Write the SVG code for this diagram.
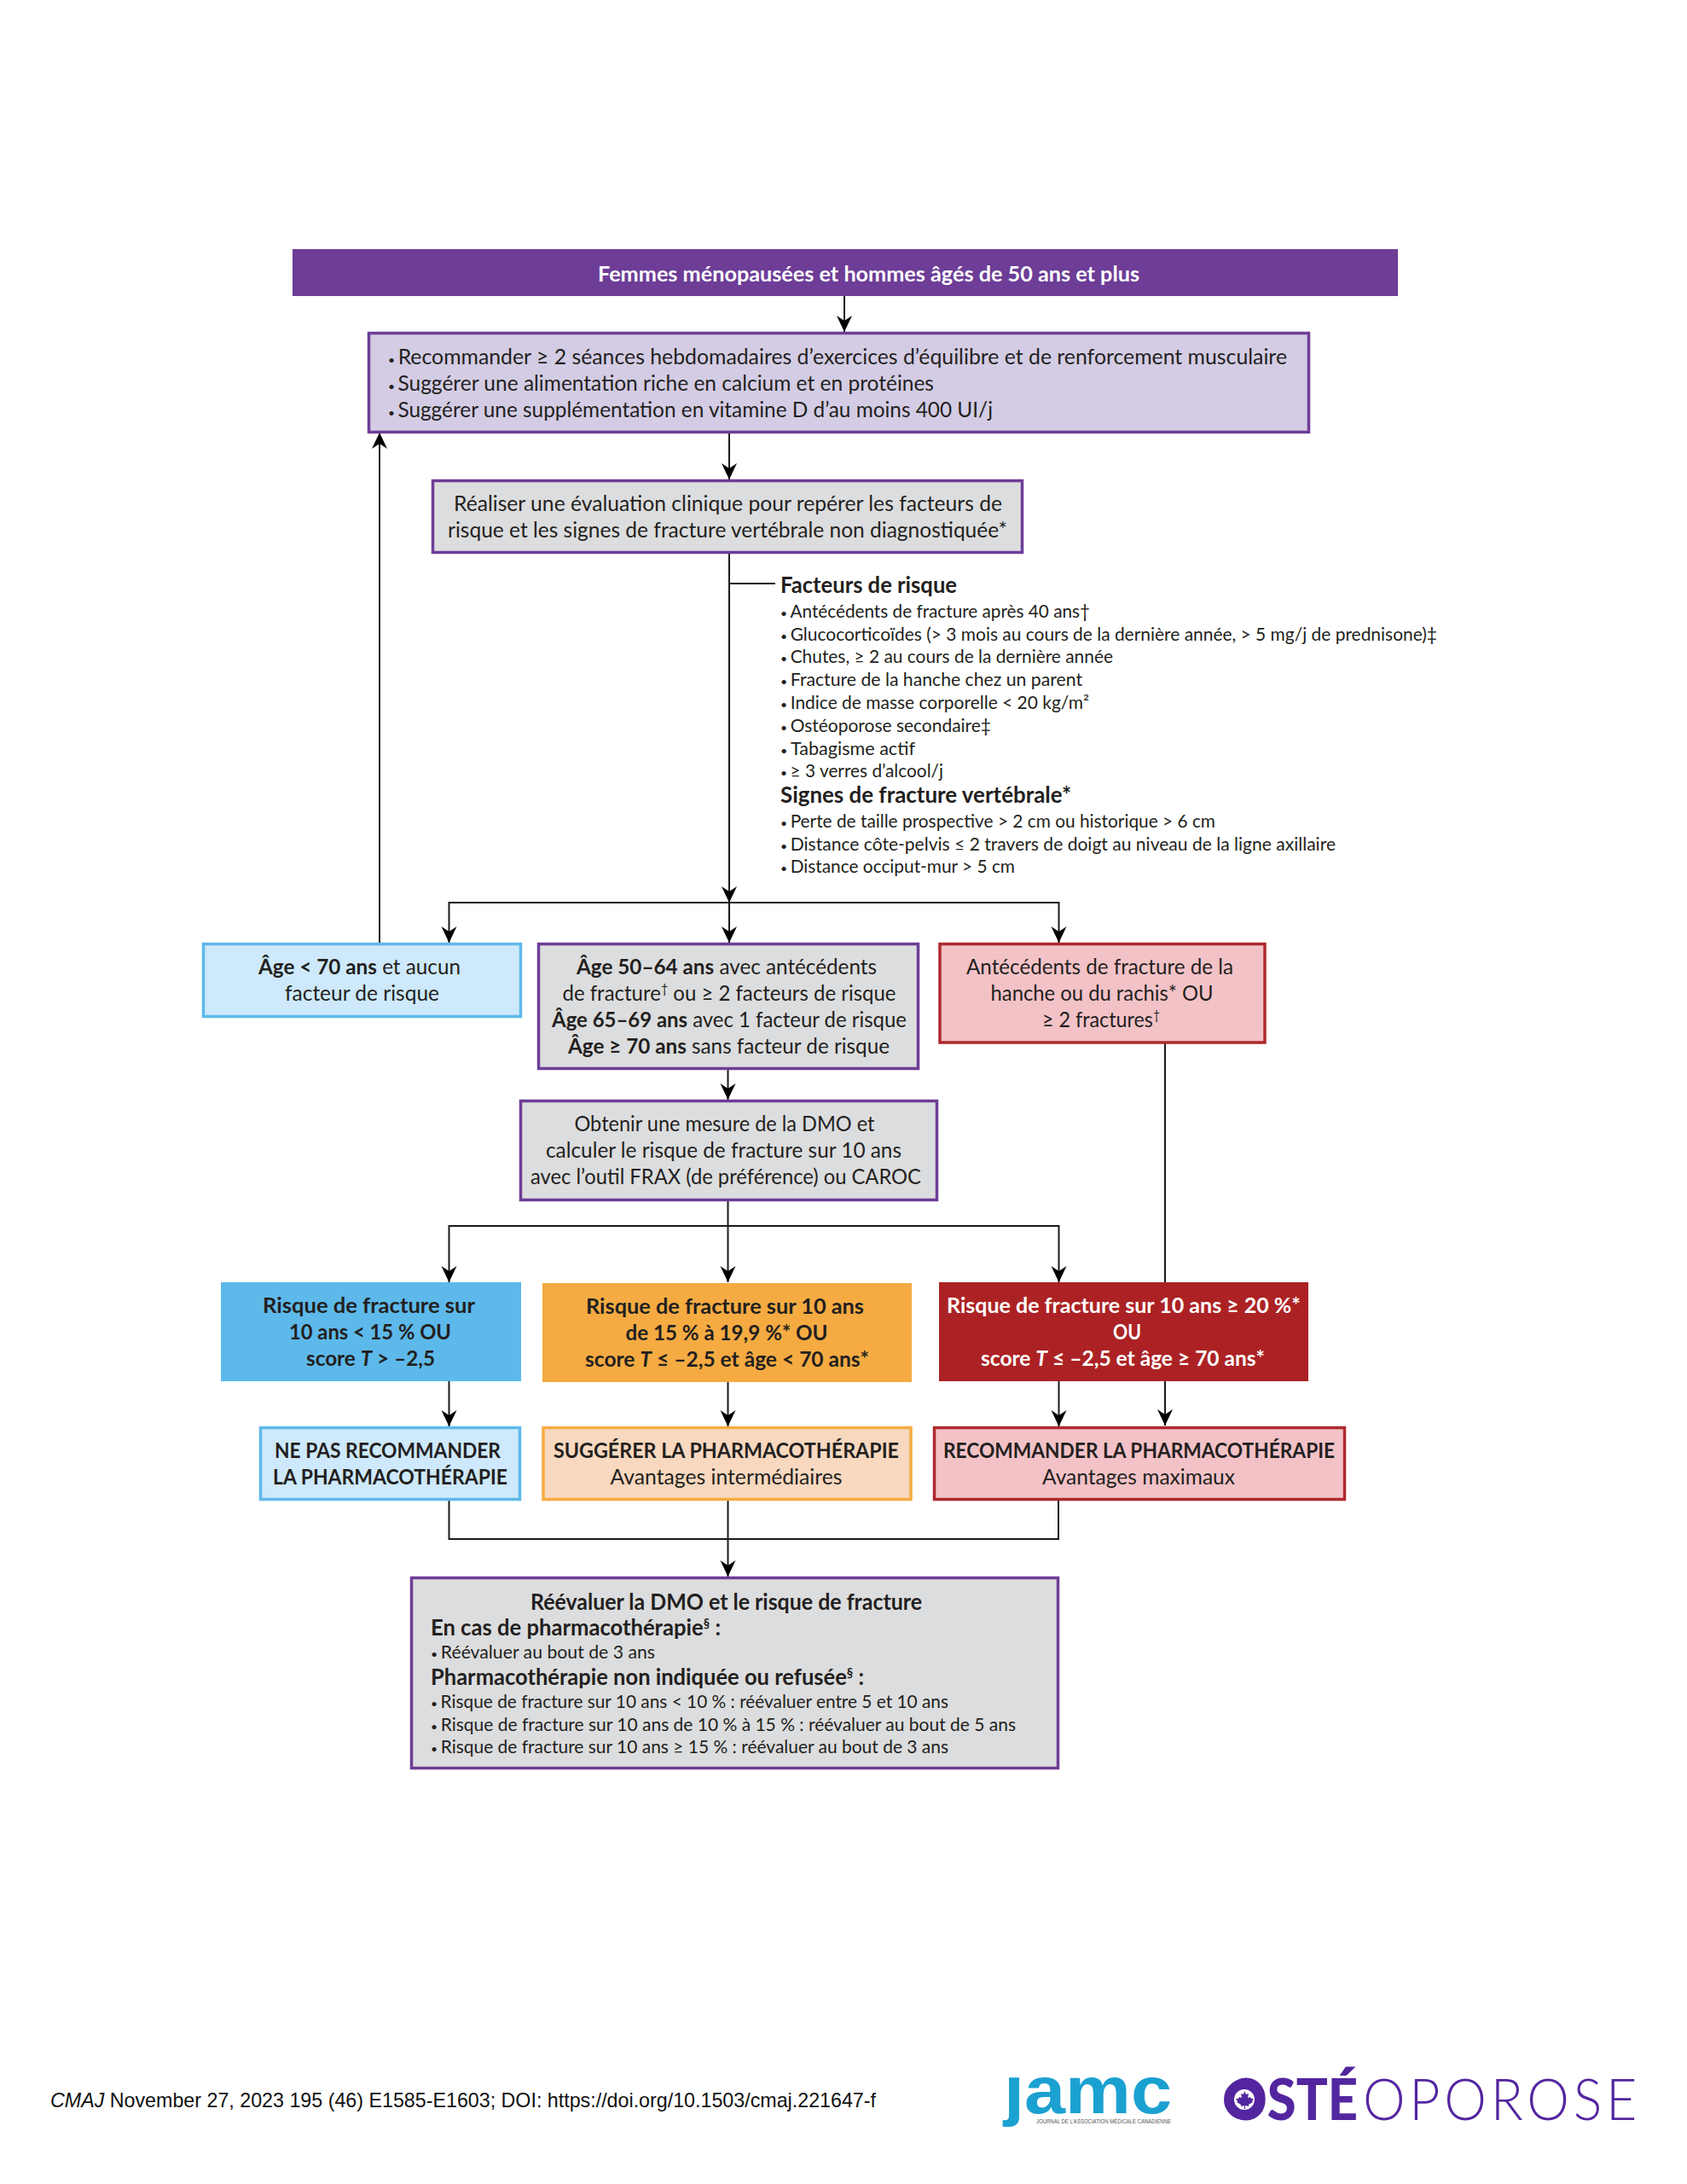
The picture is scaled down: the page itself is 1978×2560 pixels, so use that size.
<svg xmlns="http://www.w3.org/2000/svg" width="1978" height="2560" viewBox="0 0 1978 2560">
<style>
text{font-family:"Lato","Noto Sans",sans-serif;font-size:25px;fill:#231f20}
g[id^="n-"] text{transform:translate(0,1.5px)}
.b{font-weight:700}
.s{font-size:21px}
.h{font-size:26px;font-weight:700}
.w{fill:#fff}
.sup{font-size:15px;baseline-shift:super}
.i{font-style:italic}
.bu{font-size:14px}
.pu{stroke:#6d3d97}.bl{stroke:#5fb9e9}.re{stroke:#ae2a2e}.or{stroke:#f5ab42}
rect{stroke-width:3.5}
.c{fill:none;stroke:#1a1a1a;stroke-width:2}
.a{marker-end:url(#ah)}
.f{font-family:"Liberation Sans",Arial,sans-serif}
</style>
<defs>
<marker id="ah" markerUnits="userSpaceOnUse" markerWidth="22" markerHeight="20" refX="19" refY="9" orient="auto"><path d="M19,9 L0,0 L6,9 L0,18 Z" fill="#000"/></marker>
<clipPath id="jc"><rect x="1170" y="2435" width="210" height="65"/></clipPath>
</defs>
<rect width="1978" height="2560" fill="#fff" style="stroke:none"/>
<g id="connectors">
<path class="c a" d="M990,347V389"/>
<path class="c a" d="M855,507V562"/>
<path class="c a" d="M855,649V1058"/>
<path class="c" d="M855,684H909"/>
<path class="c a" d="M445,1105V507"/>
<path class="c a" d="M855,1058V1105"/>
<path class="c a" d="M855,1058H526.5V1105"/>
<path class="c a" d="M855,1058H1241.5V1105"/>
<path class="c a" d="M853.5,1253V1289"/>
<path class="c" d="M853.5,1408V1437"/>
<path class="c a" d="M853.5,1437V1503"/>
<path class="c a" d="M853.5,1437H526.5V1503"/>
<path class="c a" d="M853.5,1437H1241.5V1503"/>
<path class="c a" d="M1366,1223V1671"/>
<path class="c a" d="M526.5,1619V1672"/>
<path class="c a" d="M853.5,1620V1672"/>
<path class="c a" d="M1241.5,1619V1672"/>
<path class="c" d="M526.5,1759V1804H1241V1759"/>
<path class="c a" d="M853.5,1759V1848"/>
</g>
<g id="n-header">
<rect x="343" y="292" width="1296" height="55" fill="#6d3d97" style="stroke:none"/>
<text class="b w" x="701" y="328" textLength="635" lengthAdjust="spacingAndGlyphs">Femmes ménopausées et hommes âgés de 50 ans et plus</text>
</g>
<g id="n-recommander">
<rect class="pu" x="432.5" y="390.5" width="1102" height="116" fill="#d3cce4"/>
<text x="455" y="425" textLength="1054" lengthAdjust="spacingAndGlyphs"><tspan class="bu">• </tspan>Recommander ≥ 2 séances hebdomadaires d’exercices d’équilibre et de renforcement musculaire</text>
<text x="455" y="456" textLength="640" lengthAdjust="spacingAndGlyphs"><tspan class="bu">• </tspan>Suggérer une alimentation riche en calcium et en protéines</text>
<text x="455" y="487" textLength="709" lengthAdjust="spacingAndGlyphs"><tspan class="bu">• </tspan>Suggérer une supplémentation en vitamine D d’au moins 400 UI/j</text>
</g>
<g id="n-evaluation">
<rect class="pu" x="507.5" y="563.5" width="691" height="84" fill="#dcddde"/>
<text x="532" y="597" textLength="643" lengthAdjust="spacingAndGlyphs">Réaliser une évaluation clinique pour repérer les facteurs de</text>
<text x="525" y="628" textLength="656" lengthAdjust="spacingAndGlyphs">risque et les signes de fracture vertébrale non diagnostiquée*</text>
</g>
<g id="n-facteurs">
<text class="h" x="915" y="693" textLength="207" lengthAdjust="spacingAndGlyphs">Facteurs de risque</text>
<text class="s" x="915" y="722" textLength="363" lengthAdjust="spacingAndGlyphs"><tspan class="bu">• </tspan>Antécédents de fracture après 40 ans†</text>
<text class="s" x="915" y="749" textLength="770" lengthAdjust="spacingAndGlyphs"><tspan class="bu">• </tspan>Glucocorticoïdes (&gt; 3 mois au cours de la dernière année, &gt; 5 mg/j de prednisone)‡</text>
<text class="s" x="915" y="775" textLength="390" lengthAdjust="spacingAndGlyphs"><tspan class="bu">• </tspan>Chutes, ≥ 2 au cours de la dernière année</text>
<text class="s" x="915" y="802" textLength="354" lengthAdjust="spacingAndGlyphs"><tspan class="bu">• </tspan>Fracture de la hanche chez un parent</text>
<text class="s" x="915" y="829" textLength="362" lengthAdjust="spacingAndGlyphs"><tspan class="bu">• </tspan>Indice de masse corporelle &lt; 20 kg/m²</text>
<text class="s" x="915" y="856" textLength="247" lengthAdjust="spacingAndGlyphs"><tspan class="bu">• </tspan>Ostéoporose secondaire‡</text>
<text class="s" x="915" y="883" textLength="158" lengthAdjust="spacingAndGlyphs"><tspan class="bu">• </tspan>Tabagisme actif</text>
<text class="s" x="915" y="909" textLength="191" lengthAdjust="spacingAndGlyphs"><tspan class="bu">• </tspan>≥ 3 verres d’alcool/j</text>
<text class="h" x="915" y="939" textLength="341" lengthAdjust="spacingAndGlyphs">Signes de fracture vertébrale*</text>
<text class="s" x="915" y="968" textLength="510" lengthAdjust="spacingAndGlyphs"><tspan class="bu">• </tspan>Perte de taille prospective &gt; 2 cm ou historique &gt; 6 cm</text>
<text class="s" x="915" y="995" textLength="651" lengthAdjust="spacingAndGlyphs"><tspan class="bu">• </tspan>Distance côte-pelvis ≤ 2 travers de doigt au niveau de la ligne axillaire</text>
<text class="s" x="915" y="1021" textLength="275" lengthAdjust="spacingAndGlyphs"><tspan class="bu">• </tspan>Distance occiput-mur &gt; 5 cm</text>
</g>
<g id="n-age-faible">
<rect class="bl" x="238.5" y="1106.5" width="372" height="85" fill="#cde9fb"/>
<text x="303" y="1140" textLength="237" lengthAdjust="spacingAndGlyphs"><tspan class="b">Âge &lt; 70 ans</tspan> et aucun</text>
<text x="334" y="1171" textLength="181" lengthAdjust="spacingAndGlyphs">facteur de risque</text>
</g>
<g id="n-age-moyen">
<rect class="pu" x="631.5" y="1106.5" width="445" height="146" fill="#dcddde"/>
<text x="676" y="1140" textLength="352" lengthAdjust="spacingAndGlyphs"><tspan class="b">Âge 50–64 ans</tspan> avec antécédents</text>
<text x="659.5" y="1171" textLength="391" lengthAdjust="spacingAndGlyphs">de fracture<tspan class="sup">†</tspan> ou ≥ 2 facteurs de risque</text>
<text x="647" y="1202" textLength="416" lengthAdjust="spacingAndGlyphs"><tspan class="b">Âge 65–69 ans</tspan> avec 1 facteur de risque</text>
<text x="666" y="1233" textLength="377" lengthAdjust="spacingAndGlyphs"><tspan class="b">Âge ≥ 70 ans</tspan> sans facteur de risque</text>
</g>
<g id="n-antecedents">
<rect class="re" x="1102" y="1106.5" width="381" height="115.5" fill="#f3c2c7"/>
<text x="1133" y="1140" textLength="313" lengthAdjust="spacingAndGlyphs">Antécédents de fracture de la</text>
<text x="1161.5" y="1171" textLength="261" lengthAdjust="spacingAndGlyphs">hanche ou du rachis* OU</text>
<text x="1222" y="1202" textLength="138" lengthAdjust="spacingAndGlyphs">≥ 2 fractures<tspan class="sup">†</tspan></text>
</g>
<g id="n-dmo">
<rect class="pu" x="610.5" y="1290.5" width="488" height="116" fill="#dcddde"/>
<text x="673.5" y="1324" textLength="352" lengthAdjust="spacingAndGlyphs">Obtenir une mesure de la DMO et</text>
<text x="640" y="1355" textLength="417" lengthAdjust="spacingAndGlyphs">calculer le risque de fracture sur 10 ans</text>
<text x="622" y="1386" textLength="458" lengthAdjust="spacingAndGlyphs">avec l’outil FRAX (de préférence) ou CAROC</text>
</g>
<g id="n-risque-faible">
<rect x="259" y="1503" width="352" height="116" fill="#5db9ea" style="stroke:none"/>
<text class="b" x="308" y="1537" textLength="249" lengthAdjust="spacingAndGlyphs">Risque de fracture sur</text>
<text class="b" x="339" y="1568" textLength="190" lengthAdjust="spacingAndGlyphs">10 ans &lt; 15 % OU</text>
<text class="b" x="359" y="1599" textLength="151" lengthAdjust="spacingAndGlyphs">score <tspan class="i">T</tspan> &gt; –2,5</text>
</g>
<g id="n-risque-moyen">
<rect x="636" y="1504" width="433" height="116" fill="#f5ab42" style="stroke:none"/>
<text class="b" x="687" y="1538" textLength="326" lengthAdjust="spacingAndGlyphs">Risque de fracture sur 10 ans</text>
<text class="b" x="733.5" y="1569" textLength="237" lengthAdjust="spacingAndGlyphs">de 15 % à 19,9 %* OU</text>
<text class="b" x="686" y="1600" textLength="333" lengthAdjust="spacingAndGlyphs">score <tspan class="i">T</tspan> ≤ –2,5 et âge &lt; 70 ans*</text>
</g>
<g id="n-risque-eleve">
<rect x="1101" y="1503" width="433" height="116" fill="#ac2224" style="stroke:none"/>
<text class="b w" x="1110" y="1537" textLength="415" lengthAdjust="spacingAndGlyphs">Risque de fracture sur 10 ans ≥ 20 %*</text>
<text class="b w" x="1305" y="1568" textLength="33" lengthAdjust="spacingAndGlyphs">OU</text>
<text class="b w" x="1150" y="1599" textLength="333" lengthAdjust="spacingAndGlyphs">score <tspan class="i w">T</tspan> ≤ –2,5 et âge ≥ 70 ans*</text>
</g>
<g id="n-ne-pas">
<rect class="bl" x="305.5" y="1673.5" width="304" height="84" fill="#cde9fb"/>
<text class="b" x="322" y="1707" textLength="265" lengthAdjust="spacingAndGlyphs">NE PAS RECOMMANDER</text>
<text class="b" x="320" y="1738" textLength="275" lengthAdjust="spacingAndGlyphs">LA PHARMACOTHÉRAPIE</text>
</g>
<g id="n-suggerer">
<rect class="or" x="637" y="1673.5" width="431" height="84" fill="#f8d8be"/>
<text class="b" x="649" y="1707" textLength="405" lengthAdjust="spacingAndGlyphs">SUGGÉRER LA PHARMACOTHÉRAPIE</text>
<text x="715.5" y="1738" textLength="272" lengthAdjust="spacingAndGlyphs">Avantages intermédiaires</text>
</g>
<g id="n-recommander-pharma">
<rect class="re" x="1095.5" y="1673.5" width="481" height="84" fill="#f3c2c7"/>
<text class="b" x="1106" y="1707" textLength="459" lengthAdjust="spacingAndGlyphs">RECOMMANDER LA PHARMACOTHÉRAPIE</text>
<text x="1222" y="1738" textLength="226" lengthAdjust="spacingAndGlyphs">Avantages maximaux</text>
</g>
<g id="n-reevaluer">
<rect class="pu" x="482.5" y="1849.5" width="758" height="223" fill="#dcddde"/>
<text class="h" x="622" y="1885" textLength="459" lengthAdjust="spacingAndGlyphs">Réévaluer la DMO et le risque de fracture</text>
<text class="h" x="505" y="1915" textLength="340" lengthAdjust="spacingAndGlyphs">En cas de pharmacothérapie<tspan class="sup">§</tspan> :</text>
<text class="s" x="505" y="1942" textLength="263" lengthAdjust="spacingAndGlyphs"><tspan class="bu">• </tspan>Réévaluer au bout de 3 ans</text>
<text class="h" x="505" y="1973" textLength="508" lengthAdjust="spacingAndGlyphs">Pharmacothérapie non indiquée ou refusée<tspan class="sup">§</tspan> :</text>
<text class="s" x="505" y="2000" textLength="607" lengthAdjust="spacingAndGlyphs"><tspan class="bu">• </tspan>Risque de fracture sur 10 ans &lt; 10 % : réévaluer entre 5 et 10 ans</text>
<text class="s" x="505" y="2027" textLength="686" lengthAdjust="spacingAndGlyphs"><tspan class="bu">• </tspan>Risque de fracture sur 10 ans de 10 % à 15 % : réévaluer au bout de 5 ans</text>
<text class="s" x="505" y="2053" textLength="607" lengthAdjust="spacingAndGlyphs"><tspan class="bu">• </tspan>Risque de fracture sur 10 ans ≥ 15 % : réévaluer au bout de 3 ans</text>
</g>
<g id="footer">
<text class="f" x="59" y="2470" textLength="968" lengthAdjust="spacingAndGlyphs" style="font-size:24px;fill:#111"><tspan class="i">CMAJ</tspan> November 27, 2023 195 (46) E1585-E1603; DOI: https://doi.org/10.1503/cmaj.221647-f</text>
<g id="logo-jamc">
<text class="f" clip-path="url(#jc)" x="1177" y="2477" textLength="197" lengthAdjust="spacingAndGlyphs" style="font-weight:700;font-size:78px;fill:#1ba1d1">jamc</text>
<text class="f" x="1215" y="2489" textLength="158" lengthAdjust="spacingAndGlyphs" style="font-size:8px;fill:#555">JOURNAL DE L’ASSOCIATION MÉDICALE CANADIENNE</text>
</g>
<g id="logo-osteoporose">
<text x="1436" y="2485" textLength="156" lengthAdjust="spacingAndGlyphs" style="font-weight:900;font-size:67px;fill:#5326a0">OSTÉ</text>
<circle cx="1459" cy="2461" r="18" fill="#fff" stroke="#5326a0" stroke-width="12"/>
<path d="M1459,2451l2,4 3,-1 -1,5 3,-1 1,2 3,0 -2,3 1,1 -5,3 0,2 -4,-1 0,4 -1,0 0,-4 -4,1 0,-2 -5,-3 1,-1 -2,-3 3,0 1,-2 3,1 -1,-5 3,1z" fill="#5326a0"/>
<text x="1598" y="2485" textLength="326" lengthAdjust="spacingAndGlyphs" style="font-weight:300;font-size:67px;letter-spacing:5px;fill:#5326a0">OPOROSE</text>
</g>
</g>
</svg>
